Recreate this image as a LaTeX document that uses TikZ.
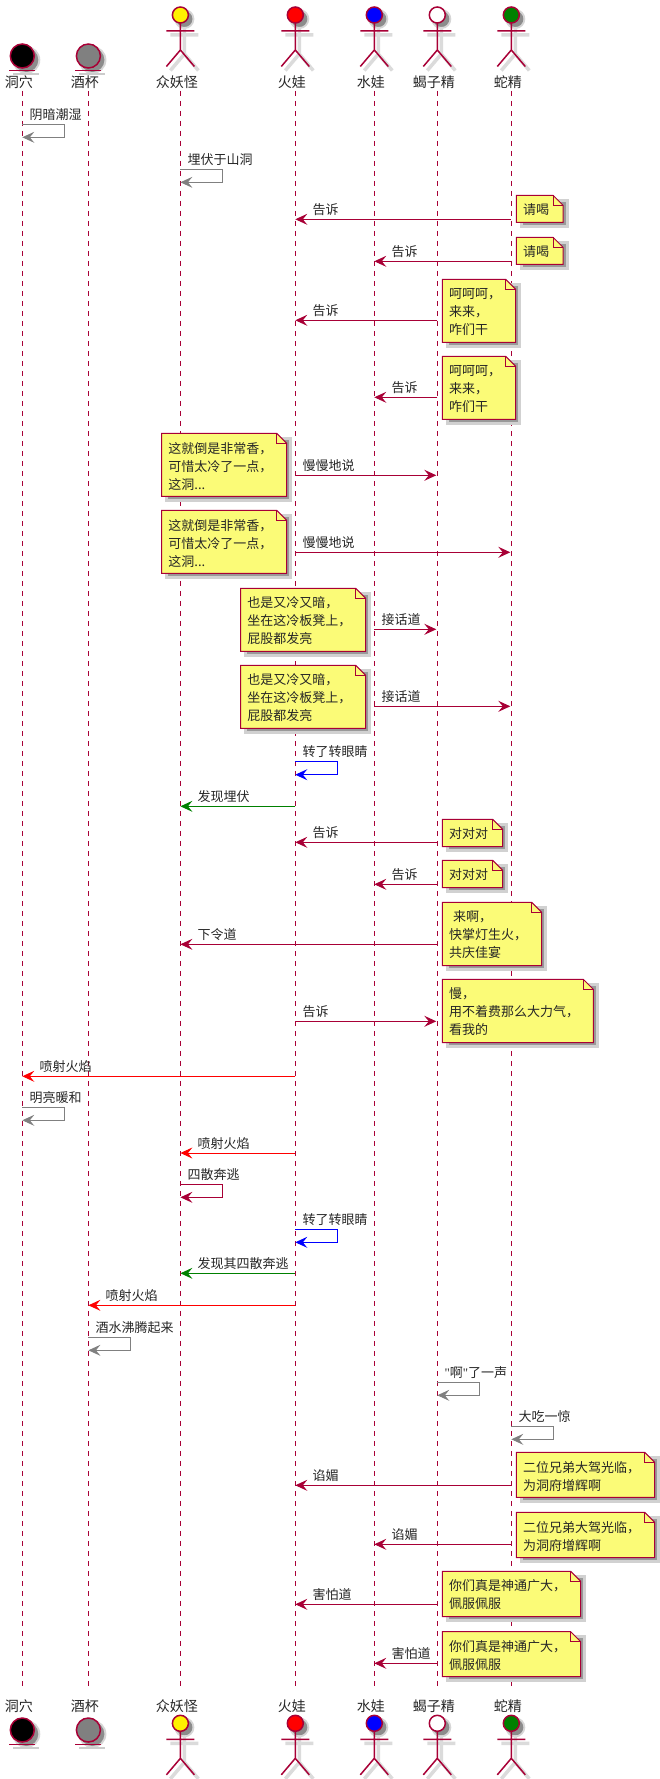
\documentclass[tikz,border=0pt]{standalone}
\usepackage{fontspec}
\setmainfont{Noto Sans CJK SC}
\newfontfamily\quotefont{Liberation Serif}
\usetikzlibrary{arrows.meta,calc}
\definecolor{crimson}{HTML}{A80036}
\definecolor{notefill}{HTML}{FBFB77}
\definecolor{darkgreen}{HTML}{008000}
\tikzset{
	lifeline/.style={crimson, line width=1pt, dash pattern=on 5pt off 5pt},
	msg/.style={crimson, line width=1pt, -{Stealth[length=12pt,width=11pt,inset=4.5pt]}},
	msglabel/.style={anchor=base west, inner sep=0pt, text=black!85, font=\fontsize{13}{18}\selectfont},
	namelabel/.style={anchor=base, inner sep=0pt, text=black!85, font=\fontsize{14}{18}\selectfont},
	notetext/.style={anchor=north west, inner sep=0pt, align=left, text=black!85, font=\fontsize{13}{18}\selectfont},
	noteshade/.style={fill=black!40, draw=black!18, line width=3pt},
	figure/.style={crimson, line width=1.5pt},
	figureshade/.style={black!14, line width=3.5pt},
}
\def\actorman[#1](#2,#3){
	\fill[black!16] ({#2+4},{#3+4}) circle (10);
	\fill[black!45] ({#2+4},{#3+4}) circle (8);
	\draw[figureshade, shift={(4,4)}] (#2, #3+8) -- (#2, #3+35) (#2-14, #3+16) -- (#2+14, #3+16) (#2-14, #3+51.5) -- (#2, #3+35) -- (#2+14, #3+51.5);
	\draw[figure] (#2, #3+8) -- (#2, #3+35) (#2-14, #3+16) -- (#2+14, #3+16) (#2-14, #3+51.5) -- (#2, #3+35) -- (#2+14, #3+51.5);
	\draw[figure, fill=#1] (#2, #3) circle (8);
}
\def\entityman[#1](#2,#3){
	\fill[black!16] ({#2+4},{#3+4}) circle (14);
	\fill[black!45] ({#2+4},{#3+4}) circle (12);
	\draw[black!20, line width=2pt] ({#2-9},{#3+18}) -- ({#2+17},{#3+18});
	\draw[figure, fill=#1] (#2, #3) circle (12);
	\draw[figure] ({#2-13},{#3+14.3}) -- ({#2+13},{#3+14.3});
}
\def\msgback[#1](#2)(#3)(#4:#5)#6{
	\draw[msg, #1] (#2 |- 0,#4) -- (#3 |- 0,#4);
	\node[msglabel] (#5) at ($(#3 |- 0,#4)+(17,-5)$) {#6};
}
\def\msgto[#1](#2)(#3)(#4:#5)#6{
	\draw[msg, shorten >=1pt, #1] (#2 |- 0,#4) -- (#3 |- 0,#4);
	\node[msglabel] (#5) at ($(#2 |- 0,#4)+(7,-5)$) {#6};
}
\def\msgself[#1](#2)(#3:#4)#5{
	\draw[msg, #1] (#2 |- 0,#3) -- ++(42,0) -- ++(0,13) -- ++(-42,0);
	\node[msglabel] (#4) at ($(#2 |- 0,#3)+(7,-5)$) {#5};
}
\def\notebox(#1)(#2,#3)(#4,#5)#6{
	\draw[noteshade] ({#2+5},{#3+5}) rectangle ({#4+4},{#5+4});
	\draw[crimson, line width=1pt, fill=notefill] (#2, #3) -- ({#4-10}, #3) -- (#4, {#3+10}) -- (#4, #5) -- (#2, #5) -- cycle;
	\draw[crimson, line width=1pt] ({#4-10}, #3) -- ({#4-10}, {#3+10}) -- (#4, {#3+10});
	\node[notetext] (#1) at ({#2+6.5}, {#3+8.5}) {#6};
}

\begin{document}
\begin{tikzpicture}[x=1pt, y=-1pt]
	%%%%% START %%%%%
	\useasboundingbox (0, 0) rectangle (660, 1779);

	\coordinate (cave) at (22.3, 91);
	\coordinate (cup) at (88.4, 91);
	\coordinate (demons) at (180.4, 91);
	\coordinate (fire) at (295.3, 91);
	\coordinate (water) at (374.3, 91);
	\coordinate (scorpion) at (437.3, 91);
	\coordinate (snake) at (511.3, 91);

	\coordinate (caveend) at (22.3, 1688);
	\coordinate (cupend) at (88.4, 1688);
	\coordinate (demonsend) at (180.4, 1688);
	\coordinate (fireend) at (295.3, 1688);
	\coordinate (waterend) at (374.3, 1688);
	\coordinate (scorpionend) at (437.3, 1688);
	\coordinate (snakeend) at (511.3, 1688);

	\draw[lifeline] (cave) -- (caveend);
	\draw[lifeline] (cup) -- (cupend);
	\draw[lifeline] (demons) -- (demonsend);
	\draw[lifeline] (fire) -- (fireend);
	\draw[lifeline] (water) -- (waterend);
	\draw[lifeline] (scorpion) -- (scorpionend);
	\draw[lifeline] (snake) -- (snakeend);

	% top row
	\entityman[black](22.3,56);
	\entityman[black!50](88.4,56);
	\actorman[yellow](180.4,15);
	\actorman[red](295.3,15);
	\actorman[blue](374.3,15);
	\actorman[white](437.3,15);
	\actorman[darkgreen](511.3,15);
	\node[namelabel] (cavetop) at (18.8, 87.5) {洞穴};
	\node[namelabel] (cuptop) at (84.9, 87.5) {酒杯};
	\node[namelabel] (demonstop) at (176.9, 87.5) {众妖怪};
	\node[namelabel] (firetop) at (291.8, 87.5) {火娃};
	\node[namelabel] (watertop) at (370.8, 87.5) {水娃};
	\node[namelabel] (scorpiontop) at (433.8, 87.5) {蝎子精};
	\node[namelabel] (snaketop) at (507.8, 87.5) {蛇精};

	% bottom row
	\node[namelabel] (cavebot) at (18.8, 1711) {洞穴};
	\node[namelabel] (cupbot) at (84.9, 1711) {酒杯};
	\node[namelabel] (demonsbot) at (176.9, 1711) {众妖怪};
	\node[namelabel] (firebot) at (291.8, 1711) {火娃};
	\node[namelabel] (waterbot) at (370.8, 1711) {水娃};
	\node[namelabel] (scorpionbot) at (433.8, 1711) {蝎子精};
	\node[namelabel] (snakebot) at (507.8, 1711) {蛇精};
	\entityman[black](22.3,1730);
	\entityman[black!50](88.4,1730);
	\actorman[yellow](180.4,1723.3);
	\actorman[red](295.3,1723.3);
	\actorman[blue](374.3,1723.3);
	\actorman[white](437.3,1723.3);
	\actorman[darkgreen](511.3,1723.3);

	% messages
	\msgself[black!50](cave)(124.3:m1){阴暗潮湿}
	\msgself[black!50](demons)(169.3:m2){埋伏于山洞}
	\msgback[](snake)(fire)(219.3:m3){告诉}
	\notebox(n3)(516.3,195.3)(563,222.3){请喝}
	\msgback[](snake)(water)(261.3:m4){告诉}
	\notebox(n4)(516.3,237.3)(563,264.3){请喝}
	\msgback[](scorpion)(fire)(320.3:m5){告诉}
	\notebox(n5)(442.3,279.3)(515.7,342.3){呵呵呵，\\来来，\\咋们干}
	\msgback[](scorpion)(water)(397.3:m6){告诉}
	\notebox(n6)(442.3,356.3)(515.7,419.3){呵呵呵，\\来来，\\咋们干}

	\msgto[](fire)(scorpion)(475.3:m7){慢慢地说}
	\notebox(n7)(161.7,433.3)(286.7,496.3){这就倒是非常香，\\可惜太冷了一点，\\这洞...}
	\msgto[](fire)(snake)(552.3:m8){慢慢地说}
	\notebox(n8)(161.7,510.3)(286.7,573.3){这就倒是非常香，\\可惜太冷了一点，\\这洞...}
	\msgto[](water)(scorpion)(629.3:m9){接话道}
	\notebox(n9)(240.7,588.3)(365.7,651.3){也是又冷又暗，\\坐在这冷板凳上，\\屁股都发亮}
	\msgto[](water)(snake)(706.3:m10){接话道}
	\notebox(n10)(240.7,665.3)(365.7,728.3){也是又冷又暗，\\坐在这冷板凳上，\\屁股都发亮}

	\msgself[blue](fire)(761.7:m11){转了转眼睛}
	\msgback[darkgreen](fire)(demons)(806.3:m12){发现埋伏}
	\msgback[](scorpion)(fire)(842.3:m13){告诉}
	\notebox(n13)(442.3,819.3)(502.7,846.7){对对对}
	\msgback[](scorpion)(water)(884.3:m14){告诉}
	\notebox(n14)(442.3,860.3)(502.7,887.7){对对对}
	\msgback[](scorpion)(demons)(944.3:m15){下令道}
	\notebox(n15)(442.3,902.3)(541.7,965.7){\hspace*{4pt}来啊，\\快掌灯生火，\\共庆佳宴}
	\msgto[](fire)(scorpion)(1021.3:m16){告诉}
	\notebox(n16)(442.3,979.3)(593.3,1042.7){慢，\\用不着费那么大力气，\\看我的}

	\msgback[red](fire)(cave)(1076.3:m17){喷射火焰}
	\msgself[black!50](cave)(1107.3:m18){明亮暖和}
	\msgback[red](fire)(demons)(1153:m19){喷射火焰}
	\msgself[](demons)(1184.3:m20){四散奔逃}
	\msgself[blue](fire)(1229.3:m21){转了转眼睛}
	\msgback[darkgreen](fire)(demons)(1273.3:m22){发现其四散奔逃}
	\msgback[red](fire)(cup)(1305.3:m23){喷射火焰}
	\msgself[black!50](cup)(1337.3:m24){酒水沸腾起来}
	\msgself[black!50](scorpion)(1382.3:m25){{\quotefont"}啊{\quotefont"}了一声}
	\msgself[black!50](snake)(1426.3:m26){大吃一惊}

	\msgback[](snake)(fire)(1485.3:m27){谄媚}
	\notebox(n27)(516.3,1452.3)(654.7,1497.3){二位兄弟大驾光临，\\为洞府增辉啊}
	\msgback[](snake)(water)(1544.3:m28){谄媚}
	\notebox(n28)(516.3,1512.3)(654.7,1557.7){二位兄弟大驾光临，\\为洞府增辉啊}
	\msgback[](scorpion)(fire)(1604.3:m29){害怕道}
	\notebox(n29)(442.3,1571.3)(580.7,1616.7){你们真是神通广大，\\佩服佩服}
	\msgback[](scorpion)(water)(1663.3:m30){害怕道}
	\notebox(n30)(442.3,1631.7)(580.7,1676.7){你们真是神通广大，\\佩服佩服}
	%%%%% END %%%%%
\end{tikzpicture}
\end{document}
